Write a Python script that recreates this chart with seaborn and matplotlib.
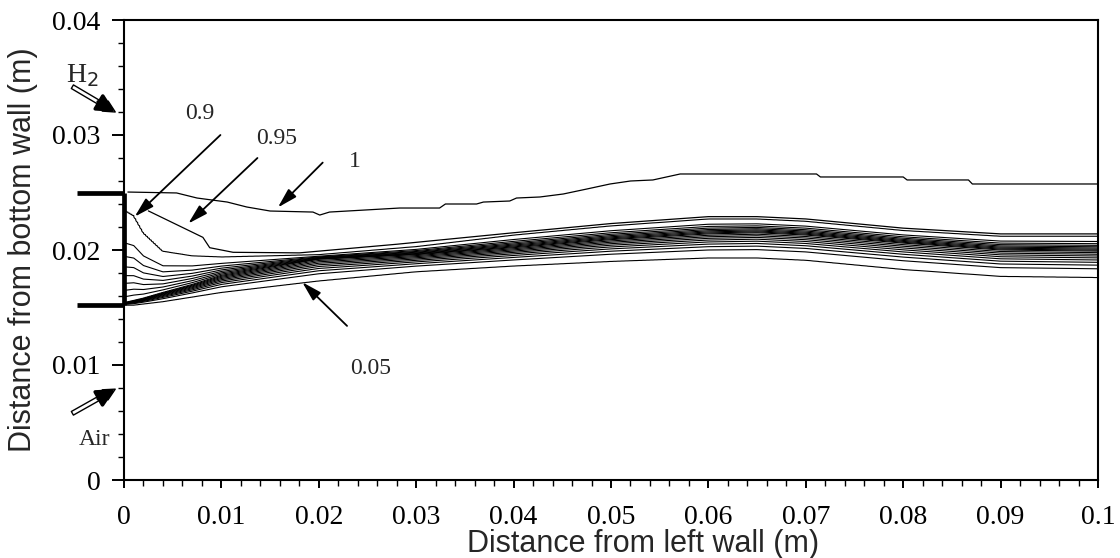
import numpy as np
import seaborn as sns
import matplotlib.pyplot as plt
from matplotlib.ticker import AutoMinorLocator

# mixing layer (m)
band_x = [0, 0.001, 0.002, 0.004, 0.007, 0.01, 0.02, 0.03, 0.04, 0.05, 0.06, 0.065, 0.07, 0.08, 0.09, 0.1]
lower_edge = [0.0152, 0.0152, 0.0153, 0.0155, 0.0159, 0.0163, 0.0173, 0.0181, 0.0186, 0.0190, 0.0193, 0.0193, 0.0191, 0.0183, 0.0177, 0.0176]   # 0.05 contour
core_line = [0.0154, 0.0156, 0.0158, 0.0163, 0.0170, 0.0178, 0.0192, 0.0196, 0.0202, 0.0209, 0.0214, 0.0215, 0.0213, 0.0206, 0.0200, 0.0199]    # 0.5 contour
upper_edge = [0.0235, 0.0230, 0.0215, 0.0199, 0.0195, 0.0194, 0.0196, 0.0203, 0.0213, 0.0221, 0.0227, 0.0227, 0.0225, 0.0217, 0.0212, 0.0212]   # 0.9 contour
levels = [0.05, 0.1, 0.15, 0.2, 0.25, 0.3, 0.35, 0.4, 0.45, 0.5, 0.55, 0.6, 0.65, 0.7, 0.75, 0.8, 0.85, 0.9]

# the 0.95 and 1 contours
c095_x = [0.0025, 0.0081, 0.0088, 0.0112, 0.018, 0.028, 0.04, 0.05, 0.06, 0.065, 0.07, 0.08, 0.09, 0.1]
c095_y = [0.0234, 0.0211, 0.0202, 0.0198, 0.01975, 0.0205, 0.0215, 0.0223, 0.0229, 0.0229, 0.0227, 0.0219, 0.0214, 0.0214]
c1_x = [0.0004, 0.0054, 0.0075, 0.0106, 0.0126, 0.0150, 0.0194, 0.0201, 0.0211, 0.0283, 0.0324, 0.0330, 0.0362, 0.0369,
        0.0396, 0.0403, 0.0427, 0.0451, 0.0475, 0.0499, 0.0520, 0.0543, 0.0571, 0.0711, 0.0715, 0.0800, 0.0804, 0.0867,
        0.0871, 0.1]
c1_y = [0.02504, 0.02496, 0.02452, 0.02417, 0.02374, 0.02339, 0.02330, 0.02304, 0.02330, 0.02365, 0.02365, 0.0240,
        0.0240, 0.02417, 0.02426, 0.02452, 0.02461, 0.02487, 0.0253, 0.02574, 0.0260, 0.02609, 0.02661, 0.02661,
        0.02635, 0.02635, 0.02609, 0.02609, 0.02574, 0.02574]

xtick_labels = ['0', '0.01', '0.02', '0.03', '0.04', '0.05', '0.06', '0.07', '0.08', '0.09', '0.1']
ytick_labels = ['0', '0.01', '0.02', '0.03', '0.04']

sns.set_theme(style='ticks')
plt.rcParams['font.family'] = ['Liberation Sans', 'DejaVu Sans']
serif = ['Liberation Serif', 'DejaVu Serif']

fig = plt.figure(figsize=(11.2, 5.58), dpi=100)
ax = fig.add_axes([124 / 1120, 78 / 558, 974 / 1120, 460 / 558])

# build the field from the read edges and contour it
xg = np.linspace(0, 0.1, 500)
yg = np.linspace(0.012, 0.027, 1200)
X, Y = np.meshgrid(xg, yg)
lo = np.interp(xg, band_x, lower_edge)[None, :]
co = np.interp(xg, band_x, core_line)[None, :]
up = np.interp(xg, band_x, upper_edge)[None, :]
s = (Y - lo) / (co - lo)
t = (Y - co) / (up - co)
F = np.where(Y < co,
             np.where(s < 0, 0.05 + 0.05 * s, 0.05 + 0.45 * s ** 2),
             np.where(t > 1, 0.9 + 0.05 * (t - 1), 0.5 + 0.4 * (1 - (1 - t) ** 2)))
ax.contour(X, Y, F, levels=levels, colors='black', linewidths=0.8)

sns.lineplot(x=c095_x, y=c095_y, sort=False, estimator=None, color='black', lw=0.9, ax=ax)
sns.lineplot(x=c1_x, y=c1_y, sort=False, estimator=None, color='black', lw=0.9, ax=ax)

# inlet walls
wall_kw = dict(color='black', lw=3.4, clip_on=False, solid_capstyle='butt', zorder=5)
ax.plot([-0.0048, 0.0], [0.025, 0.025], **wall_kw)
ax.plot([-0.0048, 0.0], [0.0152, 0.0152], **wall_kw)
ax.plot([0.0, 0.0], [0.0152, 0.025], **wall_kw)

# contour labels with arrows
lab_kw = dict(fontsize=17, family=serif, ha='center', va='center')
arr = dict(arrowstyle='-|>,head_length=1.0,head_width=0.28', color='black', lw=1.3, shrinkA=0, shrinkB=0)
ax.annotate('', xy=(0.0011, 0.0229), xytext=(0.0099, 0.0300), arrowprops=arr)
ax.annotate('', xy=(0.0066, 0.0223), xytext=(0.0137, 0.0280), arrowprops=arr)
ax.annotate('', xy=(0.0158, 0.0237), xytext=(0.0204, 0.0276), arrowprops=arr)
ax.annotate('', xy=(0.0183, 0.0172), xytext=(0.0229, 0.0134), arrowprops=arr)
ax.text(0.0078, 0.0319, '0.9', **lab_kw)
ax.text(0.0157, 0.0297, '0.95', **lab_kw)
ax.text(0.0237, 0.0277, '1', **lab_kw)
ax.text(0.0253, 0.0097, '0.05', **lab_kw)

# inlet arrows (H2 and air)
def inlet_arrow(tail, head):
    ax.annotate('', xy=head, xytext=tail, annotation_clip=False,
                arrowprops=dict(arrowstyle='simple,head_length=0.7,head_width=0.7,tail_width=0.25',
                                fc='white', ec='black', lw=1.0, shrinkA=0, shrinkB=0))
    back = (head[0] - 0.4 * (head[0] - tail[0]), head[1] - 0.4 * (head[1] - tail[1]))
    ax.annotate('', xy=head, xytext=back, annotation_clip=False,
                arrowprops=dict(arrowstyle='-|>,head_length=0.9,head_width=0.45', color='black',
                                lw=2.5, shrinkA=0, shrinkB=0))

inlet_arrow((-0.0053, 0.0342), (-0.0009, 0.0320))
inlet_arrow((-0.0053, 0.0058), (-0.0009, 0.0079))
ax.text(-0.0043, 0.0352, 'H$_2$', fontsize=20, family=serif, ha='center', va='center')
ax.text(-0.0030, 0.0035, 'Air', fontsize=17, family=serif, ha='center', va='center')

ax.set_xlim(0, 0.1)
ax.set_ylim(0, 0.04)
ax.set_xticks([i * 0.01 for i in range(11)], labels=xtick_labels)
ax.set_yticks([i * 0.01 for i in range(5)], labels=ytick_labels)
ax.xaxis.set_minor_locator(AutoMinorLocator(5))
ax.yaxis.set_minor_locator(AutoMinorLocator(5))
for lab in ax.get_xticklabels() + ax.get_yticklabels():
    lab.set_family(serif)
ax.tick_params(which='both', colors='black', labelsize=20)
ax.tick_params(axis='x', which='major', direction='out', length=6, width=1.4, pad=12)
ax.tick_params(axis='y', which='major', direction='out', length=9, width=1.4, pad=8)
ax.tick_params(which='minor', direction='out', length=4, width=1.0)
for sp in ax.spines.values():
    sp.set_visible(True)
    sp.set_linewidth(1.5)
    sp.set_color('black')
ax.set_xlabel('Distance from left wall (m)', fontsize=22)
ax.set_ylabel('Distance from bottom wall (m)', fontsize=22)
ax.xaxis.set_label_coords((643 - 124) / 974, (480 - 529) / 460)
ax.yaxis.set_label_coords((38 - 124) / 974, 0.5)

fig.savefig('out.png', dpi=100)
